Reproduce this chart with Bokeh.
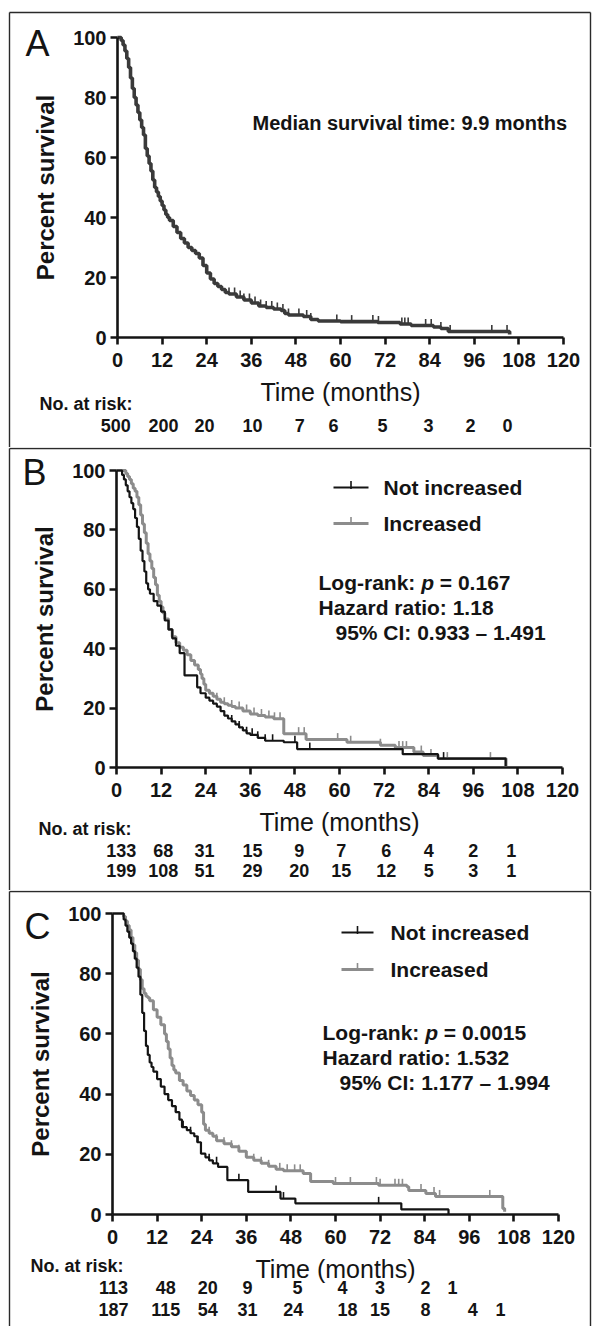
from bokeh.plotting import figure
from bokeh.models import Range1d, Label, LabelSet, FixedTicker, ColumnDataSource
from bokeh.core.properties import value
from bokeh.layouts import column
from bokeh.embed import file_html
from bokeh.resources import INLINE

FONT = "Liberation Sans"
INK = "#141414"
GRAY = "#8c8c8c"

# ---------------- data ----------------
x_ticks = [0, 12, 24, 36, 48, 60, 72, 84, 96, 108, 120]
y_ticks = [0, 20, 40, 60, 80, 100]

# Panel A: all patients
A_t = [0, 0.5, 1, 1.5, 2, 2.5, 3, 3.5, 4, 4.5, 5, 5.5, 6, 6.5, 7, 7.5, 8, 8.5, 9, 9.5,
       10, 10.5, 11, 11.5, 12, 12.5, 13, 13.5, 14, 15, 16, 17, 18, 19, 20, 21, 22, 23,
       24, 25, 26, 27, 28, 29, 30, 32, 34, 36, 38, 40, 42, 44, 45, 46, 50, 52, 54, 60,
       70, 76, 79, 85, 87, 89, 105.5]
A_s = [100, 100, 99, 97.5, 95.5, 93, 90, 86.5, 83, 80, 77.5, 75, 72.5, 70, 67.5, 63, 60.5,
       58, 55.5, 52.5, 50, 48.5, 47, 45.5, 44, 42.5, 41, 40, 39, 37, 35, 33, 31.5, 30, 29,
       28, 26.5, 24, 21.5, 19.5, 18, 17, 16, 15, 14.5, 13.5, 12.5, 11.5, 10.5, 10, 9.5, 9,
       8, 7.5, 7, 6, 5.5, 5.3, 5, 4.5, 4, 3.5, 3, 2, 1]
A_cens = [30, 31.5, 33, 34, 35.5, 37, 38.5, 40, 41.5, 43, 44.5, 46, 48.8, 50.9, 52, 59, 63,
          68.7, 70.2, 76.5, 77.3, 78.2, 82.9, 84.4, 87, 89.5, 100.7, 104.8]
A_risk_t = [-0.5, 12.4, 23.4, 36.3, 49, 58.1, 71.3, 83.7, 95, 104.9]
A_risk = [500, 200, 20, 10, 7, 6, 5, 3, 2, 0]

# Panel B
B_not_t = [0, 1, 1.5, 2, 2.5, 3, 3.5, 4, 4.5, 5, 5.5, 6, 6.5, 7, 7.5, 8, 8.5, 9, 10, 11, 12,
           13, 14, 15, 16, 17, 18.3, 21.7, 22.6, 24, 25, 26, 27, 28, 29, 30, 31, 32, 33, 34,
           35, 36, 38, 40, 45, 48.6, 77, 86.5, 104.7]
B_not_s = [100, 100, 98.5, 97, 95, 93, 91, 89, 87, 84, 81, 77, 73, 69.5, 66, 62, 60, 58.5,
           56, 54.5, 52.5, 49.5, 46.5, 43.5, 41, 38.5, 31, 27, 25, 23.5, 22.5, 21.5, 20.5,
           19, 17.5, 16.5, 15.5, 14.5, 13.5, 12.5, 11.5, 11, 10, 9, 8.5, 6.2, 4.5, 3, 0.5]
B_inc_t = [0, 2, 2.5, 3, 3.5, 4, 4.5, 5, 5.5, 6, 6.5, 7, 7.5, 8, 8.5, 9, 9.5, 10, 10.5, 11,
           11.5, 12, 12.5, 13, 14, 15, 16, 17, 18, 19, 20, 21, 22, 22.6, 23, 23.5, 24, 25,
           26, 27, 28, 29, 30, 31, 32, 34, 36, 38, 40, 42.3, 45, 51, 62, 71, 75, 80, 82.5,
           86.5, 104.8]
B_inc_s = [100, 100, 99, 98, 97, 95.5, 94, 93, 91, 88.5, 85, 82, 79, 75.5, 72, 69.5, 67, 64,
           61.5, 58, 56, 54, 52, 50, 46.5, 44, 42, 40.5, 39.5, 38, 36, 34.5, 33, 31.5, 30, 28,
           26, 25, 24, 23, 22, 21.5, 21, 20.5, 20, 19, 18, 17.5, 17, 16.4, 11.4, 9.4, 8.5,
           7.5, 6.7, 5.2, 4, 3, 0.5]
B_not_cens = [31, 33, 35, 36.5, 38, 40, 42, 48, 52, 88]
B_inc_cens = [27, 29, 31, 33, 35, 37, 39, 41, 42.5, 44, 49, 50.5, 59.5, 63, 71, 76, 77, 78,
              82, 84.6, 89, 100.6]
B_risk_t = [1.3, 12.6, 23.7, 36.6, 49.2, 60.5, 72.6, 84, 96, 106.2]
B_not_risk = [133, 68, 31, 15, 9, 7, 6, 4, 2, 1]
B_inc_risk = [199, 108, 51, 29, 20, 15, 12, 5, 3, 1]

# Panel C
C_not_t = [0, 2.4, 3, 3.5, 4, 4.5, 5, 5.5, 6, 6.5, 7, 7.5, 8, 8.5, 9, 9.5, 10, 10.5, 11, 12,
           13, 14, 15, 16, 17, 18, 18.7, 20, 21, 22, 22.8, 23.8, 25, 26, 27, 28.4, 30.9,
           36.5, 45.2, 49.2, 77.7, 90.4]
C_not_s = [100, 100, 98, 96, 94, 92, 90, 87.5, 85, 82, 79, 73, 67, 61, 56, 53, 50.5, 49,
           47.5, 45, 42.5, 40, 38, 36, 34, 31.5, 29, 28, 27, 26, 24, 20.2, 19, 18, 17, 15.8,
           11.4, 7.5, 5.3, 3.7, 1.7, 0]
C_inc_t = [0, 2.4, 3, 3.5, 4, 4.5, 5, 5.5, 6, 6.5, 7, 7.5, 8, 8.5, 9, 9.5, 10, 11, 12, 13,
           14, 14.5, 15, 15.5, 16, 16.5, 17, 18, 19, 20, 21, 22, 23, 24, 24.5, 25, 26, 27,
           28, 30, 32, 34, 36, 38, 40, 42, 44, 46, 51.3, 53.3, 59.4, 71.6, 79.2, 79.7, 84.3,
           86.9, 105, 105.5]
C_inc_s = [100, 100, 99, 97.5, 96, 94.5, 92, 89.5, 87, 84.5, 81.5, 78, 75, 73.5, 72.5, 72,
           71, 68, 65.5, 63, 60, 57.5, 55, 52, 49.5, 48, 47, 44.5, 43, 41, 39.5, 38, 36.5,
           34, 30, 28, 27, 26, 24.5, 23.5, 22.5, 21, 19, 18, 17, 16, 15, 14.5, 13.6, 11,
           10.3, 9.7, 9.2, 8, 7, 6, 2, 0.9]
C_not_cens = [15, 17, 19, 21, 23, 26, 28, 34, 44, 46, 71.6]
C_inc_cens = [26, 28, 30, 32, 34, 36, 38, 40, 42, 45, 47, 49, 50.5, 60, 64, 71, 72, 76, 77,
              78, 83, 86.5, 88, 101.5, 105]
C_not_risk_t = [0.3, 14.3, 25.6, 36.3, 49.8, 61.9, 72, 84.2, 91.5]
C_not_risk = [113, 48, 20, 9, 5, 4, 3, 2, 1]
C_inc_risk_t = [0.3, 14.3, 25.6, 36.3, 48.6, 63.2, 72, 84.2, 96.9, 104.4]
C_inc_risk = [187, 115, 54, 31, 24, 18, 15, 8, 4, 1]

# Arial/Liberation Sans Bold advance widths (em) used to place the italic p
BOLD_W = {'L': .611, 'o': .611, 'g': .611, '-': .333, 'r': .389, 'a': .556, 'n': .611,
          'k': .556, ':': .333, ' ': .278, 'p': .611}

PAGE_L = 0      # the page places the figures at its top-left corner
FIG_W = 593
KX = 3.717      # px per month


def text_w(s, size):
    return sum(BOLD_W[c] for c in s) * size


def step_at(ts, ss, t):
    val = ss[0]
    for a, b in zip(ts, ss):
        if a <= t:
            val = b
        else:
            break
    return val


class Panel:
    def __init__(self, top, height, x0, y0, ky):
        self.top, self.height, self.x0, self.y0, self.ky = top, height, x0, y0, ky
        xs = -(x0 - PAGE_L) / KX
        xe = xs + FIG_W / KX
        ye = (y0 - top) / ky
        ys = ye - height / ky
        p = figure(frame_width=FIG_W, frame_height=height, min_border=0,
                   x_range=Range1d(xs, xe), y_range=Range1d(ys, ye),
                   output_backend="svg", toolbar_location=None, tools="",
                   background_fill_color="white", border_fill_color="white")
        p.grid.visible = False
        p.outline_line_color = None
        for ax in (p.xaxis[0], p.yaxis[0]):
            ax.fixed_location = 0
            ax.axis_line_width = 2.6
            ax.axis_line_color = INK
            ax.major_tick_line_width = 2.6
            ax.major_tick_line_color = INK
            ax.major_tick_out = 7
            ax.major_tick_in = 0
            ax.minor_tick_line_color = None
            ax.major_label_text_font = FONT
            ax.major_label_text_font_size = "20px"
            ax.major_label_text_font_style = "bold"
            ax.major_label_text_color = INK
            ax.axis_label_text_font = FONT
            ax.axis_label_text_color = INK
        p.xaxis.ticker = FixedTicker(ticks=x_ticks)
        p.yaxis.ticker = FixedTicker(ticks=y_ticks)
        p.xaxis.bounds = (0, 120)
        p.yaxis.bounds = (0, 100)
        p.xaxis.axis_label = "Time (months)"
        p.xaxis.axis_label_text_font_size = "25px"
        p.xaxis.axis_label_text_font_style = "normal"
        p.xaxis.major_label_standoff = 8
        p.xaxis.axis_label_standoff = 8
        p.yaxis.axis_label = "Percent survival"
        p.yaxis.axis_label_text_font_size = "24px"
        p.yaxis.axis_label_text_font_style = "bold"
        p.yaxis.major_label_standoff = 4
        p.yaxis.axis_label_standoff = 11
        self.p = p

    # page pixel -> data
    def dx(self, page_x):
        return (page_x - self.x0) / KX

    def dy(self, page_y):
        return (self.y0 - page_y) / self.ky

    def border(self, top_y, left_x=9, right_x=590):
        p = self.p
        bottom_y = self.top + self.height
        xl, xr = self.dx(left_x), self.dx(right_x)
        yt, yb = self.dy(top_y), self.dy(bottom_y)
        p.segment(x0=[xl, xl, xr], y0=[yt, yt, yt], x1=[xr, xl, xr], y1=[yt, yb, yb],
                  line_color="#2a2a2a", line_width=1.4)

    def curve(self, ts, ss, cens, color, width, tick_w=1.6):
        self.p.step(ts, ss, mode="after", line_color=color, line_width=width)
        ys = [step_at(ts, ss, c) for c in cens]
        h = 6.5 / self.ky
        self.p.segment(x0=cens, y0=ys, x1=cens, y1=[y + h for y in ys],
                       line_color=color, line_width=tick_w)

    def text(self, page_x, page_y, s, size, style="bold", align="left", x_offset=0):
        self.p.add_layout(Label(x=self.dx(page_x), y=self.dy(page_y), text=s,
                                text_font=FONT, text_font_size=f"{size}px",
                                text_font_style=style, text_color=INK, text_align=align,
                                text_baseline="middle", x_offset=x_offset))

    def risk_row(self, ts, vals, page_y):
        y = self.dy(page_y)
        src = ColumnDataSource(dict(t=ts, y=[y] * len(ts), n=[str(v) for v in vals]))
        self.p.add_layout(LabelSet(x="t", y="y", text="n", source=src,
                                   text_font=value(FONT), text_font_size=value("18px"),
                                   text_font_style=value("bold"), text_color=INK,
                                   text_align="center", text_baseline="middle"))

    def legend(self, x0, x1, xt, ys, colors, widths, names):
        for y_px, c, w, name in zip(ys, colors, widths, names):
            a, b, y = self.dx(x0), self.dx(x1), self.dy(y_px)
            m = (a + b) / 2
            self.p.segment(x0=[a, m], y0=[y, y - 1.5 / self.ky], x1=[b, m],
                           y1=[y, y + 6.5 / self.ky], line_color=c, line_width=[w, 1.6])
            self.text(xt, y_px, name, 21)

    def stats(self, x, y, x2, pval, hr, ci):
        size = 21
        a = "Log-rank: "
        self.text(x, y, a, size)
        self.text(x, y, "p", size, style="bold italic", x_offset=text_w(a, size))
        self.text(x, y, "= " + pval, size, x_offset=text_w(a + "p ", size))
        self.text(x, y + 25, "Hazard ratio: " + hr, size)
        self.text(x2, y + 50, "95% CI: " + ci, size)


# ---------------- Panel A ----------------
A = Panel(top=0, height=447, x0=117, y0=337, ky=3.0)
A.border(12)
A.curve(A_t, A_s, A_cens, "#3a3a3a", 3.6)
A.text(37, 43, "A", 36, style="normal", align="center")
A.text(252, 122, "Median survival time: 9.9 months", 20)
A.text(39, 403, "No. at risk:", 18)
A.risk_row(A_risk_t, A_risk, 425)

# ---------------- Panel B ----------------
B = Panel(top=447, height=443, x0=116, y0=767, ky=2.97)
B.border(448)
B.curve(B_inc_t, B_inc_s, B_inc_cens, GRAY, 3.0)
B.curve(B_not_t, B_not_s, B_not_cens, INK, 2.2)
B.text(34, 472, "B", 36, style="normal", align="center")
B.legend(333, 368, 383, [487, 523], [INK, GRAY], [2.2, 3.0], ["Not increased", "Increased"])
B.stats(318, 582, 335, "0.167", "1.18", "0.933 \u2013 1.491")
B.text(38, 828, "No. at risk:", 18)
B.risk_row(B_risk_t, B_not_risk, 850)
B.risk_row(B_risk_t, B_inc_risk, 870)

# ---------------- Panel C ----------------
C = Panel(top=890, height=436, x0=112, y0=1214, ky=3.01)
C.border(891)
C.curve(C_inc_t, C_inc_s, C_inc_cens, GRAY, 3.0)
C.curve(C_not_t, C_not_s, C_not_cens, INK, 2.2)
C.text(37, 926, "C", 36, style="normal", align="center")
C.legend(341, 373, 390, [932, 969], [INK, GRAY], [2.2, 3.0], ["Not increased", "Increased"])
C.stats(322, 1032, 339, "0.0015", "1.532", "1.177 \u2013 1.994")
C.text(30, 1265, "No. at risk:", 18)
C.risk_row(C_not_risk_t, C_not_risk, 1287)
C.risk_row(C_inc_risk_t, C_inc_risk, 1309)

layout = column(A.p, B.p, C.p, spacing=0)
open("out.html", "w").write(file_html(layout, INLINE))
